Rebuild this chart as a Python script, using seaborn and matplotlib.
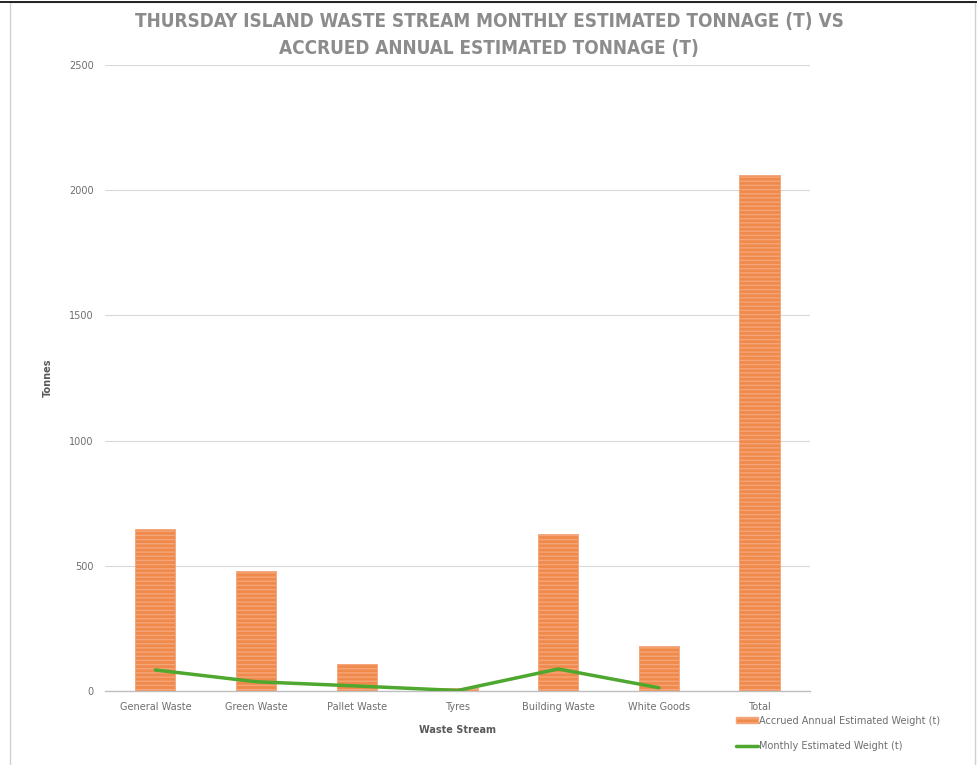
import numpy as np
import pandas as pd
import matplotlib.pyplot as plt
import matplotlib.patches as mpatches
from matplotlib.lines import Line2D
import seaborn as sns

# DATA
streams = ['General Waste', 'Green Waste', 'Pallet Waste', 'Tyres',
           'Building Waste', 'White Goods', 'Total']
annual_t = [645, 480, 108, 12, 627, 180, 2062]
monthly_t = [84, 37, 20, 2, 88, 13, np.nan]

sns.set_style('white')
plt.rcParams['font.family'] = ['DejaVu Sans']

green = '#4EA72E'
grey_txt = '#6E6E6E'

fig = plt.figure(figsize=(9.78, 7.65), dpi=100)
ax = fig.add_axes([105 / 978, 1 - 691 / 765, 705 / 978, 626 / 765])

df = pd.DataFrame({'stream': streams, 'annual': annual_t, 'monthly': monthly_t})

# BARS - striped orange look
plt.rcParams['hatch.color'] = '#F9D3BA'
plt.rcParams['hatch.linewidth'] = 1.0
sns.barplot(data=df, x='stream', y='annual', color='#F08A4B', width=0.4,
            saturation=1, ax=ax, hatch='----', edgecolor='#F4A57A', linewidth=0.6)

# LINE
sns.lineplot(x=np.arange(len(streams)), y=df['monthly'], color=green,
             linewidth=2.5, ax=ax, zorder=5)

ax.set_ylim(0, 2500)
ax.set_xlim(-0.5, len(streams) - 0.5)
ax.set_yticks([0, 500, 1000, 1500, 2000, 2500])
ax.yaxis.grid(True, color='#D9D9D9', linewidth=0.8)
ax.set_axisbelow(True)
for s in ['top', 'right', 'left']:
    ax.spines[s].set_visible(False)
ax.spines['bottom'].set_color('#BFBFBF')
ax.spines['bottom'].set_linewidth(1)

ax.tick_params(axis='y', length=0, labelsize=7, labelcolor=grey_txt, pad=8)
ax.set_xticks(np.arange(len(streams)))
ax.set_xticklabels(streams)
ax.tick_params(axis='x', which='major', length=0, labelsize=7, labelcolor=grey_txt, pad=8)
ax.set_xticks(np.arange(len(streams) + 1) - 0.5, minor=True)
ax.tick_params(axis='x', which='minor', length=4, color='#BFBFBF', direction='out')

ax.set_xlabel('Waste Stream', fontsize=7, fontweight='bold', color='#595959', labelpad=9)
ax.set_ylabel('Tonnes', fontsize=7, fontweight='bold', color='#595959', labelpad=12)

fig.text(0.5, 1 - 35 / 765, 'THURSDAY ISLAND WASTE STREAM MONTHLY ESTIMATED TONNAGE (T) VS\nACCRUED ANNUAL ESTIMATED TONNAGE (T)',
         ha='center', va='center', fontsize=13.6, fontweight='bold', color='#8C8C8C',
         fontstretch='condensed', linespacing=1.5)

# LEGEND
handles = [mpatches.Patch(facecolor='#F08A4B', edgecolor='#F4A57A', hatch='----',
                          label='Accrued Annual Estimated Weight (t)'),
           Line2D([0], [0], color=green, linewidth=2.5, label='Monthly Estimated Weight (t)')]
fig.legend(handles=handles, loc='upper left', bbox_to_anchor=(727 / 978, 1 - 707 / 765),
           frameon=False, fontsize=7, labelcolor=grey_txt, handlelength=2.3,
           handletextpad=0.1, labelspacing=1.6, handleheight=0.6)

# outer border
fig.add_artist(mpatches.Rectangle((10 / 978, -0.01), 965 / 978, 1 - 2 / 765 + 0.01,
                                  transform=fig.transFigure, fill=False,
                                  edgecolor='#D0D0D0', linewidth=1))
fig.add_artist(Line2D([0, 1], [1 - 2 / 765, 1 - 2 / 765], transform=fig.transFigure,
                      color='black', linewidth=1.2))

fig.savefig('out.png', dpi=100, facecolor='white')
